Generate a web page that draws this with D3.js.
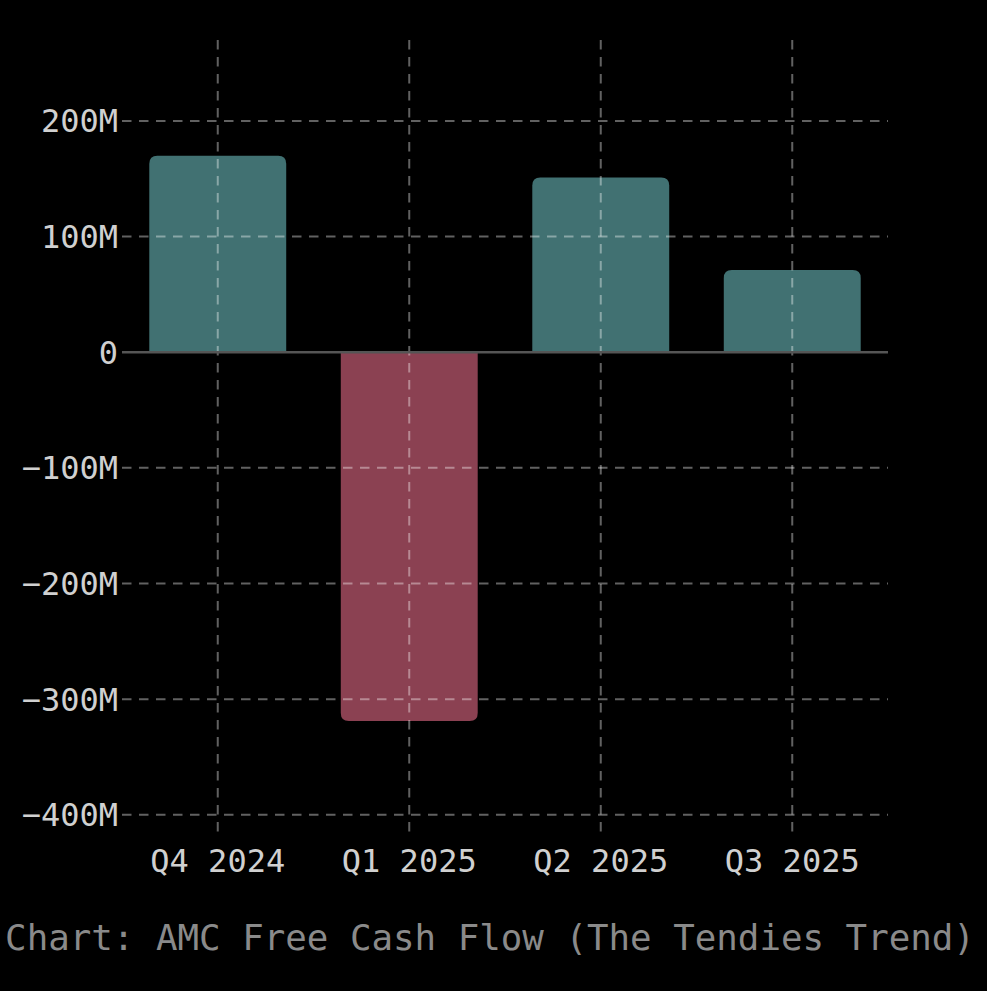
<!DOCTYPE html>
<html>
<head>
<meta charset="utf-8">
<script src="https://cdn.jsdelivr.net/npm/d3@7"></script>
<style>
    html, body { margin: 0; padding: 0; background: #000; }
    svg { display: block; }
</style>
</head>
<body>
<div id="chart"></div>
<script>
// quarterly free cash flow, millions USD
const quarters = ["Q4 2024", "Q1 2025", "Q2 2025", "Q3 2025"];
const freeCashFlow = [170, -319, 151, 71];
const yTicks = [200, 100, 0, -100, -200, -300, -400];
const yTickLabels = ["200M", "100M", "0", "\u2212100M", "\u2212200M", "\u2212300M", "\u2212400M"];

const width = 987;
const height = 991;
const plotLeft = 122, plotRight = 888, plotTop = 40, plotBottom = 835;

const svg = d3.select("#chart").append("svg")
    .attr("width", width)
    .attr("height", height)
    .style("background", "#000");

const x = d3.scaleBand()
    .domain(quarters)
    .range([plotLeft, plotRight])
    .paddingInner(0.285)
    .paddingOuter(0.1425);

const y = d3.scaleLinear()
    .domain([-417.5, 270])
    .range([plotBottom, plotTop]);

const font = "'DejaVu Sans Mono', monospace";

// bars with rounded outer corners
function barPath(d, i) {
    const x0 = x(quarters[i]);
    const w = x.bandwidth();
    const y0 = y(0);
    const y1 = y(d);
    const r = 8;
    if (d >= 0) {
        return `M${x0},${y0} V${y1 + r} Q${x0},${y1} ${x0 + r},${y1} H${x0 + w - r} Q${x0 + w},${y1} ${x0 + w},${y1 + r} V${y0} Z`;
    }
    return `M${x0},${y0} V${y1 - r} Q${x0},${y1} ${x0 + r},${y1} H${x0 + w - r} Q${x0 + w},${y1} ${x0 + w},${y1 - r} V${y0} Z`;
}

svg.append("g")
    .selectAll("path")
    .data(freeCashFlow)
    .join("path")
    .attr("d", barPath)
    .attr("fill", d => d >= 0 ? "#417172" : "#8b4152");

// grid lines (drawn over the bars)
const grid = svg.append("g")
    .attr("stroke", "rgba(255,255,255,0.38)")
    .attr("stroke-width", 2)
    .attr("stroke-dasharray", "9.5,7.5");

grid.selectAll(".hgrid")
    .data(yTicks.filter(v => v !== 0))
    .join("line")
    .attr("class", "hgrid")
    .attr("x1", plotLeft)
    .attr("x2", plotRight)
    .attr("y1", d => y(d))
    .attr("y2", d => y(d));

grid.selectAll(".vgrid")
    .data(quarters)
    .join("line")
    .attr("class", "vgrid")
    .attr("x1", d => x(d) + x.bandwidth() / 2)
    .attr("x2", d => x(d) + x.bandwidth() / 2)
    .attr("y1", plotTop)
    .attr("y2", plotBottom);

// zero line
svg.append("line")
    .attr("x1", plotLeft)
    .attr("x2", plotRight)
    .attr("y1", y(0))
    .attr("y2", y(0))
    .attr("stroke", "#555")
    .attr("stroke-width", 2.5);

// y tick labels
svg.append("g")
    .selectAll("text")
    .data(yTicks)
    .join("text")
    .attr("x", plotLeft - 4)
    .attr("y", d => y(d))
    .attr("dy", "0.36em")
    .attr("text-anchor", "end")
    .attr("fill", "#d0d0d0")
    .style("font-family", font)
    .style("font-size", "32px")
    .text((d, i) => yTickLabels[i]);

// x tick labels
svg.append("g")
    .selectAll("text")
    .data(quarters)
    .join("text")
    .attr("x", d => x(d) + x.bandwidth() / 2)
    .attr("y", 872)
    .attr("text-anchor", "middle")
    .attr("fill", "#d0d0d0")
    .style("font-family", font)
    .style("font-size", "32px")
    .text(d => d);

// caption
svg.append("text")
    .attr("x", 490)
    .attr("y", 950)
    .attr("text-anchor", "middle")
    .attr("fill", "#8a8a8a")
    .style("font-family", font)
    .style("font-size", "35.8px")
    .text("Chart: AMC Free Cash Flow (The Tendies Trend)");
</script>
</body>
</html>
